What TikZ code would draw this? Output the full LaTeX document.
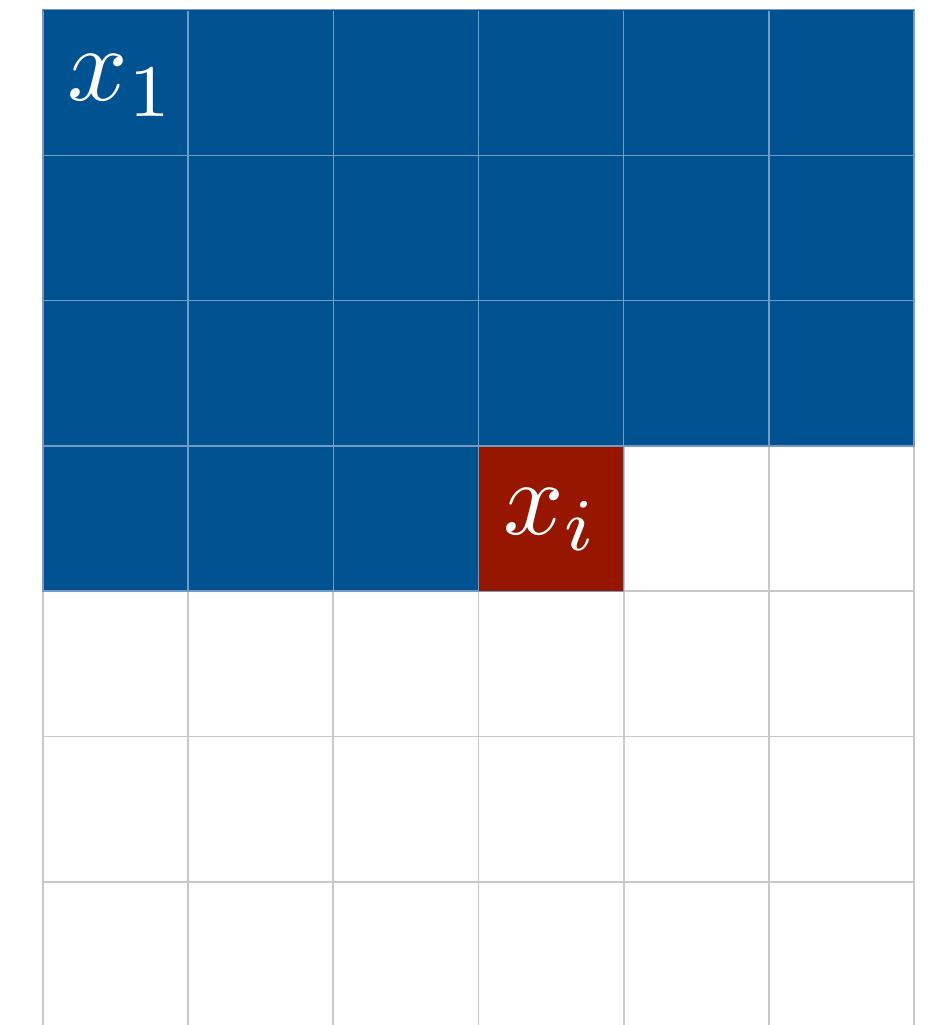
\documentclass[tikz,border=0pt]{standalone}
\definecolor{cblue}{RGB}{1,82,145}
\definecolor{cred}{RGB}{150,22,0}
\definecolor{gline}{RGB}{200,200,200}
\definecolor{bline}{RGB}{115,155,196}
\tikzset{
  whitecell/.style={fill=white,draw=gline,line width=1.8pt},
  bluecell/.style={fill=cblue,draw=bline,line width=1.6pt},
  redcell/.style={fill=cred,draw=bline,line width=1.4pt},
  lbl/.style={text=white,anchor=base,inner sep=0pt,scale=10.6}
}
\begin{document}
\begin{tikzpicture}[x=1pt,y=-1pt]
\useasboundingbox (0,0) rectangle (934,1025);
\fill[white] (0,0) rectangle (934,1025);
\clip (0,0) rectangle (934,1025);
\def\cw{145.17}
\def\ch{145.3}
% white cells
\foreach \r in {0,...,6}{
  \foreach \c in {0,...,5}{
    \pgfmathtruncatemacro{\k}{6*\r+\c}
    \ifnum\k>21
      \draw[whitecell] ({43+\c*\cw},{10+\r*\ch}) rectangle ++(\cw,\ch);
    \fi
  }
}
% blue cells
\foreach \r in {0,...,3}{
  \foreach \c in {0,...,5}{
    \pgfmathtruncatemacro{\k}{6*\r+\c}
    \ifnum\k<21
      \draw[bluecell] ({43+\c*\cw},{10+\r*\ch}) rectangle ++(\cw,\ch);
    \fi
  }
}
\fill[cblue] (43,10) rectangle (914,11);
\draw[redcell] ({43+3*\cw},{10+3*\ch}) rectangle ++(\cw,\ch);
\node[lbl] (x1) at ({43+0.5*\cw+6},{10+0.5*\ch+18}) {$x_1$};
\node[lbl] (xi) at ({43+3.5*\cw},{10+3.5*\ch+16}) {$x_i$};
\end{tikzpicture}
\end{document}
